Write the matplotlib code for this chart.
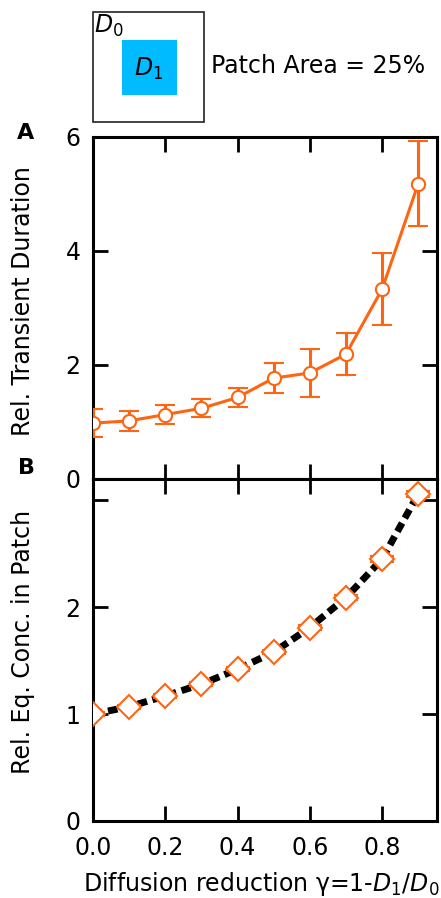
import matplotlib
matplotlib.use("Agg")
import matplotlib.pyplot as plt
from matplotlib.patches import Rectangle

plt.rcParams['font.family'] = ['DejaVu Sans']
plt.rcParams['mathtext.fontset'] = 'dejavusans'

gamma = [0.0, 0.1, 0.2, 0.3, 0.4, 0.5, 0.6, 0.7, 0.8, 0.9]
transient = [0.98, 1.02, 1.13, 1.24, 1.43, 1.77, 1.86, 2.19, 3.33, 5.18]
transient_err = [0.25, 0.18, 0.16, 0.16, 0.16, 0.26, 0.42, 0.37, 0.63, 0.75]
conc = [1.00, 1.07, 1.17, 1.28, 1.42, 1.58, 1.81, 2.09, 2.45, 3.06]
conc_err = [0.02, 0.02, 0.02, 0.02, 0.02, 0.02, 0.02, 0.02, 0.03, 0.03]

A_yticks = [0, 2, 4, 6]
B_yticks = [0, 1, 2, 3]
B_yticklabels = ['0', '1', '2', '']
xticks = [0.0, 0.2, 0.4, 0.6, 0.8]
xticklabels = ['0.0', '0.2', '0.4', '0.6', '0.8']

orange = '#FF6410'
W, H = 441, 898
fig = plt.figure(figsize=(W / 100, H / 100), dpi=100)

L, R = 93 / W, 437 / W
axA = fig.add_axes([L, 1 - 479 / H, R - L, (479 - 137) / H])
axB = fig.add_axes([L, 1 - 821 / H, R - L, (821 - 479) / H])

for ax in (axA, axB):
    for s in ax.spines.values():
        s.set_linewidth(2.2)
    ax.tick_params(direction='in', length=11, width=2.0, top=True, right=True,
                   labelsize=17, pad=9)
    ax.tick_params(axis='x', pad=11)
    ax.set_xlim(0, 0.952)
    ax.set_xticks(xticks)

axA.errorbar(gamma, transient, yerr=transient_err, color=orange, lw=2.2,
             elinewidth=2.2, capsize=7.5, capthick=2.2, marker='o', ms=9.5,
             mfc='white', mec=orange, mew=1.5, zorder=3)
axA.set_ylim(0, 6)
axA.set_yticks(A_yticks)
axA.tick_params(labelbottom=False)
axA.set_ylabel('Rel. Transient Duration', fontsize=17)

axB.plot(gamma, conc, color='black', lw=5, linestyle=(0, (1.4, 0.8)), zorder=2)
axB.errorbar(gamma, conc, yerr=conc_err, color=orange, lw=0, elinewidth=1.5,
             capsize=8.5, capthick=2.2, marker='D', ms=12, mfc='white',
             mec=orange, mew=1.5, zorder=3)
axB.set_ylim(0, 3.2)
axB.set_yticks(B_yticks)
axB.set_yticklabels(B_yticklabels)
axB.set_xticklabels(xticklabels)
axB.set_ylabel('Rel. Eq. Conc. in Patch', fontsize=17)
axB.set_xlabel(r'Diffusion reduction γ=1-$\it{D}_1/\it{D}_0$', fontsize=17)
axB.xaxis.set_label_coords(0.49, -0.143)
axA.yaxis.set_label_coords(-0.17, 0.52)
axB.yaxis.set_label_coords(-0.17, 0.525)

fig.text(26 / W, 1 - 133 / H, 'A', fontsize=16, fontweight='bold', ha='center', va='center')
fig.text(26 / W, 1 - 468 / H, 'B', fontsize=16, fontweight='bold', ha='center', va='center')

# inset schematic
fig.patches.append(Rectangle((93 / W, 1 - 122 / H), (204 - 93) / W, (122 - 12) / H,
                             transform=fig.transFigure, fill=False, ec='#222222', lw=1.2))
fig.patches.append(Rectangle((122 / W, 1 - 95 / H), (177 - 122) / W, (95 - 40) / H,
                             transform=fig.transFigure, fc='#00BBFF', ec='none'))
fig.text(94 / W, 1 - 26 / H, r'$\it{D}_0$', fontsize=17, ha='left', va='center')
fig.text(149 / W, 1 - 69 / H, r'$\it{D}_1$', fontsize=17, ha='center', va='center')
fig.text(211 / W, 1 - 66 / H, 'Patch Area = 25%', fontsize=17, ha='left', va='center')

fig.savefig('out.png', dpi=100)
